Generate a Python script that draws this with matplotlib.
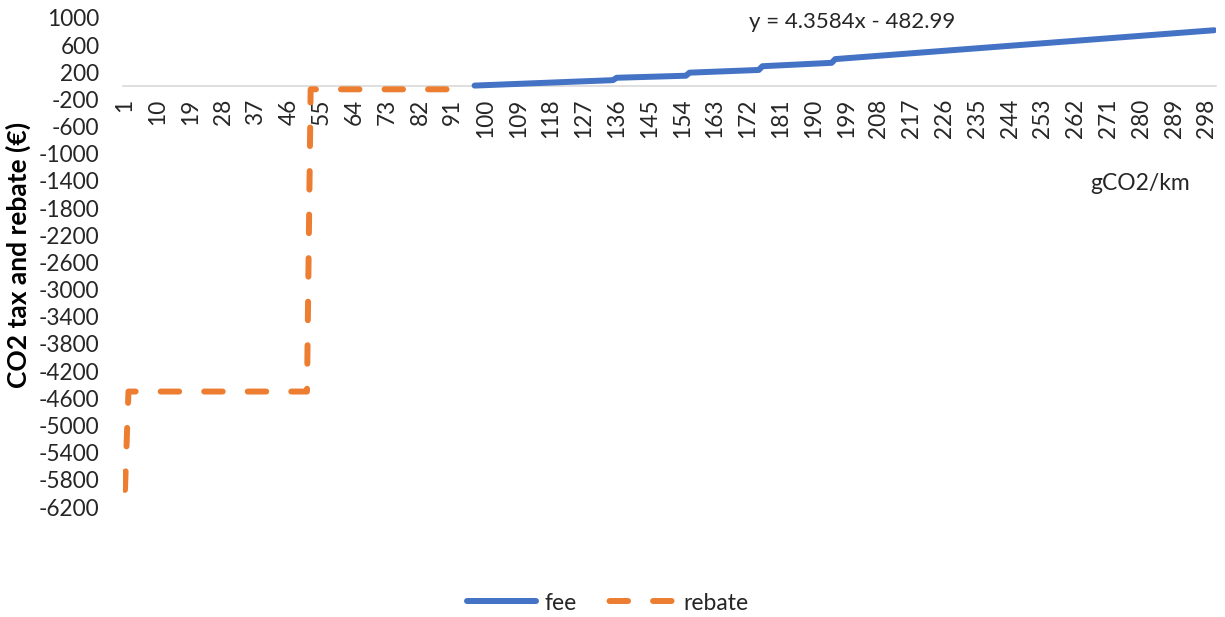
import matplotlib
matplotlib.use("Agg")
import matplotlib.pyplot as plt

plt.rcParams['font.family'] = ['Lato', 'DejaVu Sans']

# Emission categories (gCO2/km) shown on the horizontal axis
categories = list(range(1, 301))
tick_labels = [str(c) for c in range(1, 301, 9)]
y_ticks = list(range(-6200, 1001, 400))

# Rebate series: breakpoints (category, euro)
rebate_x = [1, 2, 51, 52, 95]
rebate_y = [-6000, -4500, -4500, -50, -50]

# Fee series: breakpoints (category, euro)
fee_x = [97, 135, 136, 155, 156, 175, 176, 195, 196, 300]
fee_y = [5, 85, 120, 150, 195, 235, 290, 340, 395, 820]

trend_text = "y = 4.3584x - 482.99"

BLUE = "#4472C4"
ORANGE = "#ED7D31"
TEXT = "#262626"
LW = 4.3

fig = plt.figure(figsize=(12.25, 6.17), dpi=100)
ax = fig.add_axes([123 / 1225, 1 - 507 / 617, (1216 - 123) / 1225, (507 - 18) / 617])

fee_line, = ax.plot(fee_x, fee_y, color=BLUE, lw=LW, solid_capstyle='round',
                    solid_joinstyle='round', label='fee', zorder=3)
rebate_line, = ax.plot(rebate_x, rebate_y, color=ORANGE, lw=LW,
                       linestyle=(6.7, (3.1, 4.19)), dash_capstyle='round',
                       dash_joinstyle='round', label='rebate', zorder=3)

ax.set_xlim(0.5, 300.5)
ax.set_ylim(-6200, 1000)

for s in ['top', 'right', 'left']:
    ax.spines[s].set_visible(False)
ax.spines['bottom'].set_position(('data', 0))
ax.spines['bottom'].set_color('#D9D9D9')
ax.spines['bottom'].set_linewidth(1.2)
ax.spines['bottom'].set_zorder(1)

ax.set_xticks(list(range(1, 301, 9)))
ax.set_xticklabels(tick_labels, rotation=90, fontsize=16.3, color=TEXT)
ax.set_yticks(y_ticks)
ax.set_yticklabels([str(v) for v in y_ticks], fontsize=16.3, color=TEXT)
ax.tick_params(axis='x', length=0, pad=9)
ax.tick_params(axis='y', length=0, pad=17)

fig.text(18 / 1225, 1 - 255 / 617, "CO2 tax and rebate (€)", rotation=90,
         ha='center', va='center', fontsize=19, fontweight='bold', color='#000000')

fig.text(1190 / 1225, 1 - 183 / 617, "gCO2/km", ha='right', va='center',
         fontsize=16.5, color=TEXT)
fig.text(852 / 1225, 1 - 22 / 617, trend_text, ha='center', va='center',
         fontsize=16, color=TEXT)

fig.legend(handles=[fee_line, rebate_line], loc='center',
           bbox_to_anchor=(608 / 1225, 1 - 603 / 617), ncol=2, frameon=False,
           fontsize=16.5, handlelength=3.0, handletextpad=0.4, columnspacing=1.25,
           labelcolor=TEXT)

fig.savefig("out.png", dpi=100)
